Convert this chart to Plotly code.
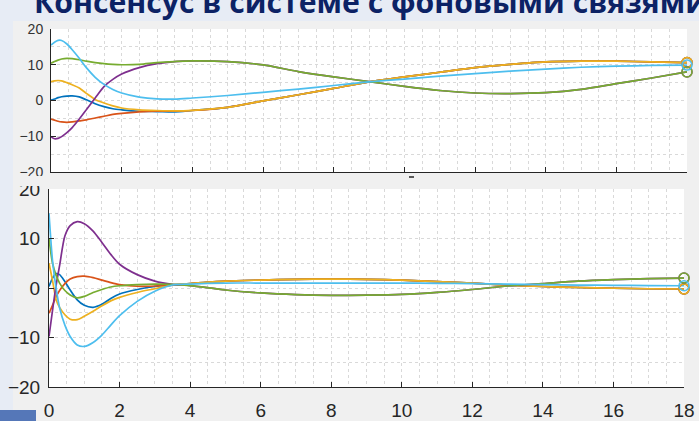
import plotly.graph_objects as go

W, H = 699, 421

title_text = "Консенсус в системе с фоновыми связями"

t = [0, 0.1, 0.2, 0.3, 0.45, 0.6, 0.8, 1.0, 1.25, 1.5, 1.75, 2.0, 2.5, 3.0, 3.5,
     4, 5, 6, 7, 8, 9, 10, 11, 12, 13, 14, 15, 16, 17, 18]

# top panel (states)
top_blue = [0.1, 0.4, 0.8, 1.05, 1.25, 1.3, 1.0, 0.2, -0.9, -1.7, -2.3, -2.6, -3.0, -3.1, -3.2, -2.8,
            -1.9, -0.1, 1.6, 3.4, 5.2, 6.6, 7.9, 9.2, 10.1, 10.8, 11.0, 11.0, 10.8, 10.6]
top_orange = [-5.2, -5.5, -5.8, -6.0, -6.1, -6.0, -5.7, -5.4, -4.9, -4.4, -3.9, -3.6, -3.2, -3.0, -3.0, -2.8,
              -1.9, -0.1, 1.6, 3.4, 5.2, 6.6, 7.9, 9.2, 10.1, 10.8, 11.0, 11.0, 10.8, 10.6]
top_yellow = [5.3, 5.5, 5.6, 5.5, 5.0, 4.4, 3.5, 2.0, 0.3, -0.7, -1.5, -2.1, -2.6, -2.8, -2.9, -2.75,
              -1.9, -0.1, 1.6, 3.4, 5.2, 6.6, 7.9, 9.2, 10.1, 10.8, 11.0, 11.0, 10.8, 10.6]
top_purple = [-10.1, -10.7, -10.6, -10.1, -9.0, -7.6, -5.2, -2.6, 0.7, 3.9, 5.9, 7.4, 9.2, 10.3, 10.9, 11.1,
              10.9, 9.95, 8.1, 6.6, 5.3, 3.95, 2.8, 2.1, 1.95, 2.2, 3.1, 4.7, 6.3, 8.0]
top_green = [10.4, 10.9, 11.3, 11.6, 11.8, 11.7, 11.4, 11.0, 10.6, 10.3, 10.1, 10.0, 10.1, 10.6, 10.9, 11.1,
             10.9, 9.95, 8.1, 6.6, 5.3, 3.95, 2.8, 2.1, 1.95, 2.2, 3.1, 4.7, 6.3, 8.0]
top_cyan = [15.5, 16.3, 16.8, 16.8, 15.8, 14.2, 11.8, 9.2, 6.5, 4.5, 3.1, 2.1, 0.95, 0.45, 0.4, 0.7,
            1.4, 2.3, 3.2, 4.2, 5.2, 6.0, 6.8, 7.5, 8.2, 8.8, 9.3, 9.6, 9.8, 9.9]

# bottom panel
bot_blue = [0.3, 2.0, 2.9, 2.7, 1.3, -0.4, -2.4, -3.5, -3.9, -3.3, -2.1, -1.2, -0.3, 0.3, 0.6, 0.9,
            1.4, 1.6, 1.75, 1.8, 1.75, 1.6, 1.3, 1.0, 0.6, 0.3, 0.1, -0.05, -0.15, -0.2]
bot_orange = [-5.1, -3.5, -1.8, -0.5, 0.9, 1.8, 2.3, 2.4, 2.1, 1.6, 1.1, 0.7, 0.35, 0.4, 0.6, 0.9,
              1.4, 1.6, 1.75, 1.8, 1.75, 1.6, 1.3, 1.0, 0.6, 0.3, 0.1, -0.05, -0.15, -0.2]
bot_yellow = [5.0, 1.5, -2.3, -3.9, -5.4, -6.3, -6.4, -5.7, -4.7, -3.6, -2.6, -1.9, -0.9, -0.15, 0.6, 0.9,
              1.4, 1.6, 1.75, 1.8, 1.75, 1.6, 1.3, 1.0, 0.6, 0.3, 0.1, -0.05, -0.15, -0.2]
bot_purple = [-9.8, -4.5, 0.5, 4.5, 10.5, 12.6, 13.4, 13.0, 11.5, 9.2, 6.8, 4.8, 2.7, 1.4, 0.75, 0.5,
              -0.4, -1.0, -1.35, -1.5, -1.45, -1.3, -0.9, -0.3, 0.4, 0.9, 1.4, 1.7, 1.9, 2.0]
bot_green = [10.0, 5.0, 2.6, 1.0, -0.5, -1.4, -2.0, -1.7, -0.9, -0.3, 0.2, 0.45, 0.7, 0.8, 0.75, 0.5,
             -0.4, -1.0, -1.35, -1.5, -1.45, -1.3, -0.9, -0.3, 0.4, 0.9, 1.4, 1.7, 1.9, 2.0]
bot_cyan = [15.1, 5.5, 0.0, -4.0, -7.5, -9.8, -11.5, -11.8, -11.0, -9.5, -7.5, -5.6, -2.7, -0.65, 0.6, 0.8,
            1.0, 1.0, 1.0, 1.0, 1.0, 1.0, 0.95, 0.9, 0.8, 0.7, 0.6, 0.55, 0.5, 0.45]

colors = ["#0072BD", "#D95319", "#EDB120", "#7E2F8E", "#77AC30", "#4DBEEE"]
top_series = [top_blue, top_orange, top_yellow, top_purple, top_green, top_cyan]
bot_series = [bot_blue, bot_orange, bot_yellow, bot_purple, bot_green, bot_cyan]

x_ticks = [0, 2, 4, 6, 8, 10, 12, 14, 16, 18]
y_ticks = [-20, -10, 0, 10, 20]


def px_x(p):
    return p / W


def px_y(p):
    return 1 - p / H


fig = go.Figure()

for series, c in zip(top_series, colors):
    fig.add_trace(go.Scatter(x=t, y=series, mode="lines", xaxis="x", yaxis="y",
                             line=dict(color=c, width=1.7, shape="spline", smoothing=0.8),
                             hoverinfo="skip"))
for series, c in zip(top_series, colors):
    fig.add_trace(go.Scatter(x=[t[-1]], y=[series[-1]], mode="markers", xaxis="x", yaxis="y",
                             marker=dict(symbol="circle-open", size=10, color=c, line=dict(width=1.5)),
                             cliponaxis=False, hoverinfo="skip"))
for series, c in zip(bot_series, colors):
    fig.add_trace(go.Scatter(x=t, y=series, mode="lines", xaxis="x2", yaxis="y2",
                             line=dict(color=c, width=1.7, shape="spline", smoothing=0.8),
                             hoverinfo="skip"))
for series, c in zip(bot_series, colors):
    fig.add_trace(go.Scatter(x=[t[-1]], y=[series[-1]], mode="markers", xaxis="x2", yaxis="y2",
                             marker=dict(symbol="circle-open", size=10, color=c, line=dict(width=1.5)),
                             cliponaxis=False, hoverinfo="skip"))

grid_col = "#d9d9d9"
axis_common = dict(
    showline=True, linecolor="#262626", linewidth=1, mirror=False,
    ticks="inside", ticklen=5, tickcolor="#262626", tickwidth=1,
    showgrid=True, gridcolor=grid_col, griddash="3px,3px", gridwidth=1,
    zeroline=False, fixedrange=True, automargin=False,
)
minor_x = dict(dtick=0.5, showgrid=True, gridcolor=grid_col, griddash="3px,3px", ticks="")
minor_y = dict(dtick=5, showgrid=True, gridcolor=grid_col, griddash="3px,3px", ticks="")

top_font = dict(family="Liberation Sans, Arial", size=14, color="#333333")
bot_font = dict(family="Liberation Sans, Arial", size=19, color="#262626")

fig.update_layout(
    width=W, height=H,
    margin=dict(l=0, r=0, t=0, b=0, autoexpand=False),
    paper_bgcolor="#f0f0f0",
    plot_bgcolor="#ffffff",
    showlegend=False,
    xaxis=dict(axis_common, domain=[px_x(51), px_x(687)], range=[0, 18], tickvals=x_ticks,
               showticklabels=False, anchor="y", minor=minor_x),
    yaxis=dict(axis_common, domain=[px_y(172), px_y(29)], range=[-20, 20], tickvals=y_ticks,
               tickfont=top_font, anchor="x", ticklabelstandoff=4, minor=minor_y),
    xaxis2=dict(axis_common, domain=[px_x(49), px_x(684)], range=[0, 18], tickvals=x_ticks,
                tickfont=bot_font, anchor="y2", ticklabelstandoff=6, minor=minor_x),
    yaxis2=dict(axis_common, domain=[px_y(387), px_y(189)], range=[-20, 20], tickvals=y_ticks,
                tickfont=bot_font, anchor="x2", ticklabelstandoff=4, minor=minor_y),
)

slide_bg = "#e7ecf5"
shapes = [
    dict(type="rect", xref="paper", yref="paper", x0=0, x1=px_x(13), y0=0, y1=1,
         fillcolor=slide_bg, line=dict(width=0), layer="below"),
    dict(type="rect", xref="paper", yref="paper", x0=0, x1=1, y0=px_y(21), y1=1,
         fillcolor=slide_bg, line=dict(width=0), layer="below"),
    dict(type="rect", xref="paper", yref="paper", x0=0, x1=px_x(36), y0=0, y1=px_y(410),
         fillcolor="#5577b8", line=dict(width=0), layer="below"),
    # figure area hiding the lower half of the top panel's last tick label
    dict(type="rect", xref="paper", yref="paper", x0=px_x(13), x1=px_x(48), y0=px_y(186), y1=px_y(176),
         fillcolor="#f0f0f0", line=dict(width=0), layer="above"),
    # small clipped mark under the top panel
    dict(type="line", xref="paper", yref="paper", x0=px_x(409), x1=px_x(414), y0=px_y(177), y1=px_y(177),
         line=dict(color="#262626", width=1.5), layer="above"),
]
fig.update_layout(shapes=shapes)

fig.add_annotation(
    text="<b>" + title_text + "</b>", xref="paper", yref="paper",
    x=px_x(32), y=px_y(24), xanchor="left", yanchor="bottom", showarrow=False,
    font=dict(family="Open Sans", size=30.2, color="#0c2265"),
)

fig.write_html("out.html", config={"displayModeBar": False},
               post_script="document.body.style.margin='0px';document.body.style.overflow='hidden';")
